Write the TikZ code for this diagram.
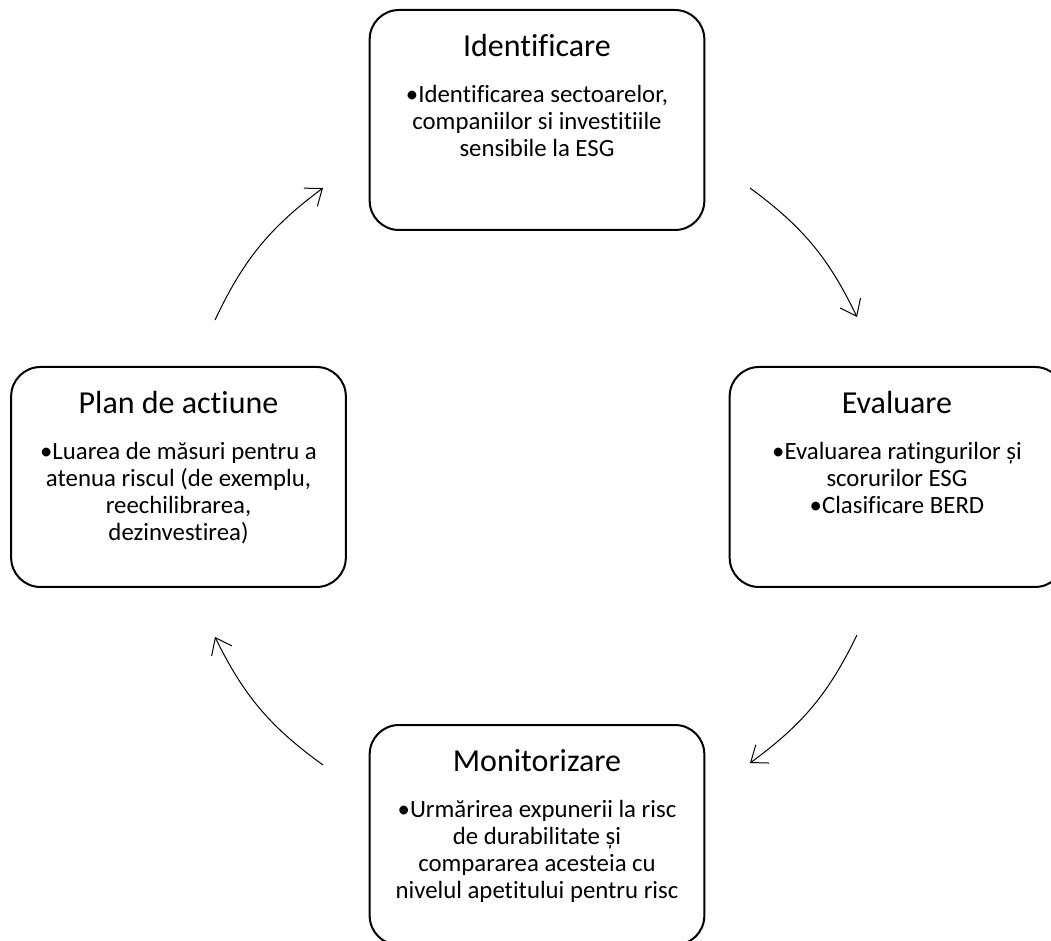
\documentclass[tikz,border=0pt]{standalone}
\usepackage{fontspec}
\setmainfont{Carlito}[Ligatures=NoCommon]
\usetikzlibrary{arrows.meta}
\begin{document}
\begin{tikzpicture}[x=0.75pt,y=-0.75pt,
  stagebox/.style={draw,line width=1.5pt,rounded corners=22pt,fill=white,
    minimum width=251pt,minimum height=165pt,inner sep=0pt},
  stagetitle/.style={anchor=base,font=\fontsize{24}{28}\selectfont,inner sep=0pt},
  stagebody/.style={anchor=north,align=center,inner sep=0pt,
    font={\fontsize{18.6}{20.3}\selectfont\lineskiplimit-20pt\relax}},
  flow/.style={line width=0.75pt,-{Straight Barb[length=11pt,width=17pt]}}]
\useasboundingbox (0,0) rectangle (1051,941);
\clip (0,0) rectangle (1051,941);
\def\stage#1#2#3#4#5{
\node[stagebox] (#1) at (#2,#3) {};
\node[stagetitle] (#1t) at ([yshift=-35.5pt]#1.north) {#4};
\node[stagebody] (#1b) at ([yshift=-57pt]#1.north) {#5};
}
\stage{ident}{537}{120}{Identificare}{•Identificarea sectoarelor,\\ companiilor si investitiile\\ sensibile la ESG}
\stage{eval}{897}{477}{Evaluare}{•Evaluarea ratingurilor și\\ scorurilor ESG\\ •Clasificare BERD}
\stage{monit}{537}{835}{Monitorizare}{•Urmărirea expunerii la risc\\ de durabilitate și\\ compararea acesteia cu\\ nivelul apetitului pentru risc}
\stage{plan}{178.5}{477}{Plan de actiune}{•Luarea de măsuri pentru a\\ atenua riscul (de exemplu,\\ reechilibrarea,\\ dezinvestirea)}
\coordinate (plan-out) at (215,320);
\coordinate (ident-in) at (323,188);
\coordinate (ident-out) at (750,188);
\coordinate (eval-in) at (857,317);
\coordinate (eval-out) at (857,635);
\coordinate (monit-in) at (750,763);
\coordinate (monit-out) at (323,765);
\coordinate (plan-in) at (215,637);
\draw[flow] (plan-out) to[bend left=14] (ident-in);
\draw[flow] (ident-out) to[bend left=14] (eval-in);
\draw[flow] (eval-out) to[bend left=14] (monit-in);
\draw[flow] (monit-out) to[bend left=14] (plan-in);
\end{tikzpicture}
\end{document}
